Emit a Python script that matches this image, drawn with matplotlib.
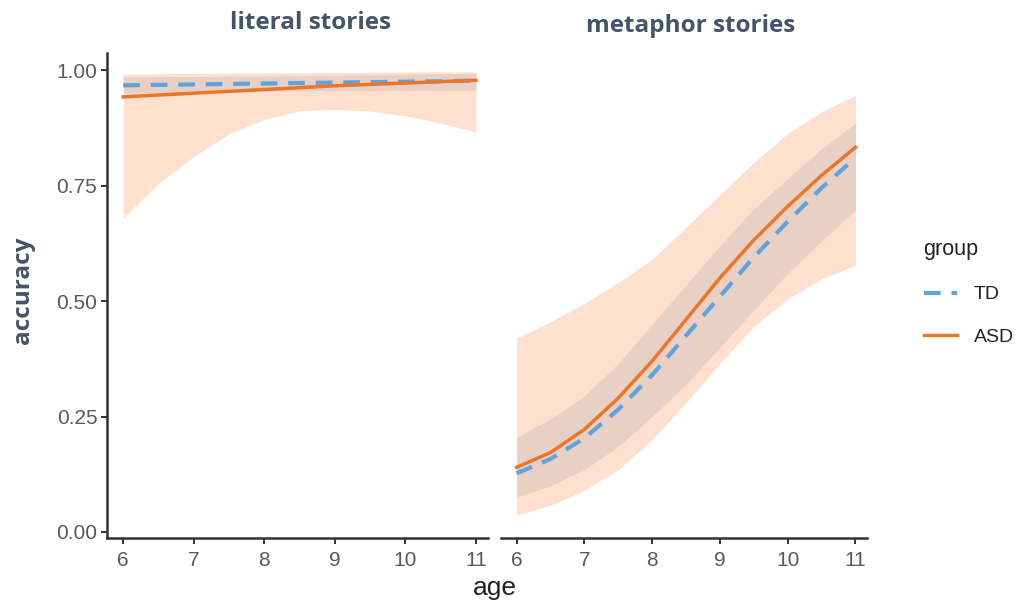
import numpy as np
import matplotlib.pyplot as plt
from matplotlib.lines import Line2D

# =========================
# DATA
# =========================

ages = [6, 6.5, 7, 7.5, 8, 8.5, 9, 9.5, 10, 10.5, 11]

# literal stories
lit_td = [0.967, 0.968, 0.969, 0.970, 0.971, 0.972, 0.973, 0.974, 0.975, 0.976, 0.977]
lit_td_lo = [0.950, 0.951, 0.952, 0.953, 0.954, 0.955, 0.956, 0.956, 0.957, 0.957, 0.957]
lit_td_hi = [0.985, 0.986, 0.986, 0.987, 0.987, 0.988, 0.989, 0.990, 0.991, 0.992, 0.993]
lit_asd = [0.942, 0.946, 0.950, 0.954, 0.958, 0.962, 0.966, 0.969, 0.972, 0.975, 0.978]
lit_asd_lo = [0.68, 0.755, 0.813, 0.862, 0.893, 0.912, 0.915, 0.911, 0.901, 0.885, 0.866]
lit_asd_hi = [0.991, 0.992, 0.993, 0.993, 0.994, 0.994, 0.995, 0.995, 0.996, 0.996, 0.996]

# metaphor stories
met_td = [0.127, 0.158, 0.203, 0.265, 0.34, 0.425, 0.51, 0.595, 0.672, 0.745, 0.81]
met_td_lo = [0.076, 0.10, 0.135, 0.185, 0.25, 0.32, 0.40, 0.48, 0.56, 0.63, 0.697]
met_td_hi = [0.205, 0.245, 0.295, 0.365, 0.45, 0.535, 0.62, 0.70, 0.765, 0.83, 0.885]
met_asd = [0.14, 0.172, 0.222, 0.29, 0.37, 0.46, 0.55, 0.632, 0.705, 0.772, 0.833]
met_asd_lo = [0.036, 0.058, 0.09, 0.135, 0.20, 0.28, 0.365, 0.445, 0.505, 0.548, 0.578]
met_asd_hi = [0.42, 0.455, 0.495, 0.54, 0.59, 0.66, 0.73, 0.80, 0.863, 0.91, 0.945]

y_ticks = [0.00, 0.25, 0.50, 0.75, 1.00]
y_tick_labels = ["0.00", "0.25", "0.50", "0.75", "1.00"]
x_ticks = [6, 7, 8, 9, 10, 11]

panel_titles = ["literal stories", "metaphor stories"]

# =========================
# STYLE
# =========================

ORANGE = "#E8772A"
BLUE = "#5FA3DC"
PEACH = "#FFE0CF"
GREY = "#B9B1AE"
TITLE_COLOR = "#44546A"
AXIS_COLOR = "#333333"
TICK_TEXT = "#5A5A5A"
TITLE_FONT = ["Open Sans", "DejaVu Sans"]

plt.rcParams["font.family"] = ["Liberation Sans", "DejaVu Sans"]

fig = plt.figure(figsize=(10.23, 6.04), dpi=100)

W, H = 1023, 604
ax_l = fig.add_axes([107 / W, 1 - 538 / H, (488 - 107) / W, (538 - 53) / H])
ax_r = fig.add_axes([501 / W, 1 - 538 / H, (867 - 501) / W, (538 - 53) / H])

panels = [
    (ax_l, lit_td, lit_td_lo, lit_td_hi, lit_asd, lit_asd_lo, lit_asd_hi),
    (ax_r, met_td, met_td_lo, met_td_hi, met_asd, met_asd_lo, met_asd_hi),
]

for ax, td, td_lo, td_hi, asd, asd_lo, asd_hi in panels:
    ax.fill_between(ages, asd_lo, asd_hi, color=PEACH, lw=0, zorder=1)
    ax.fill_between(ages, td_lo, td_hi, color=GREY, alpha=0.32, lw=0, zorder=2)
    ax.plot(ages, td, color=BLUE, lw=3.0, dashes=(4, 2.6), zorder=3,
            dash_capstyle="butt")
    ax.plot(ages, asd, color=ORANGE, lw=2.5, zorder=4)

    ax.set_xlim(5.77, 11.17)
    ax.set_ylim(-0.013, 1.037)
    ax.set_xticks(x_ticks)
    ax.set_xticklabels([str(t) for t in x_ticks])
    ax.tick_params(axis="x", direction="out", length=4, width=1.4,
                   color=AXIS_COLOR, labelsize=15, labelcolor=TICK_TEXT, pad=5)
    for side in ["top", "right"]:
        ax.spines[side].set_visible(False)
    ax.spines["bottom"].set_color(AXIS_COLOR)
    ax.spines["bottom"].set_linewidth(1.8)
    ax.patch.set_alpha(0)

ax_l.set_yticks(y_ticks)
ax_l.set_yticklabels(y_tick_labels)
ax_l.tick_params(axis="y", direction="out", length=4, width=1.4,
                 color=AXIS_COLOR, labelsize=15, labelcolor=TICK_TEXT, pad=3)
ax_l.spines["left"].set_color(AXIS_COLOR)
ax_l.spines["left"].set_linewidth(1.8)

ax_r.spines["left"].set_visible(False)
ax_r.set_yticks([])

# panel titles
fig.text(311 / W, 1 - 23 / H, panel_titles[0], ha="center", va="center",
         fontsize=17.5, fontweight="bold", color=TITLE_COLOR, family=TITLE_FONT)
fig.text(691 / W, 1 - 26 / H, panel_titles[1], ha="center", va="center",
         fontsize=17.5, fontweight="bold", color=TITLE_COLOR, family=TITLE_FONT)

# axis labels
fig.text(495 / W, 1 - 588 / H, "age", ha="center", va="center",
         fontsize=19, color="#222222")
fig.text(23 / W, 1 - 290 / H, "accuracy", ha="center", va="center", rotation=90,
         fontsize=17.5, fontweight="bold", color=TITLE_COLOR, family=TITLE_FONT)

# legend
handles = [
    Line2D([], [], color=BLUE, lw=3.0, dashes=(4, 2.6)),
    Line2D([], [], color=ORANGE, lw=2.5),
]
leg = fig.legend(handles, ["TD", "ASD"], title="group", loc="upper left",
                 bbox_to_anchor=(906 / W, 1 - 222 / H), frameon=False,
                 fontsize=14, title_fontsize=15.5, handlelength=1.7,
                 labelspacing=1.3, handletextpad=0.9, alignment="left")
for t in leg.get_texts():
    t.set_color("#222222")
leg.get_title().set_color("#222222")

fig.savefig("out.png", dpi=100)
